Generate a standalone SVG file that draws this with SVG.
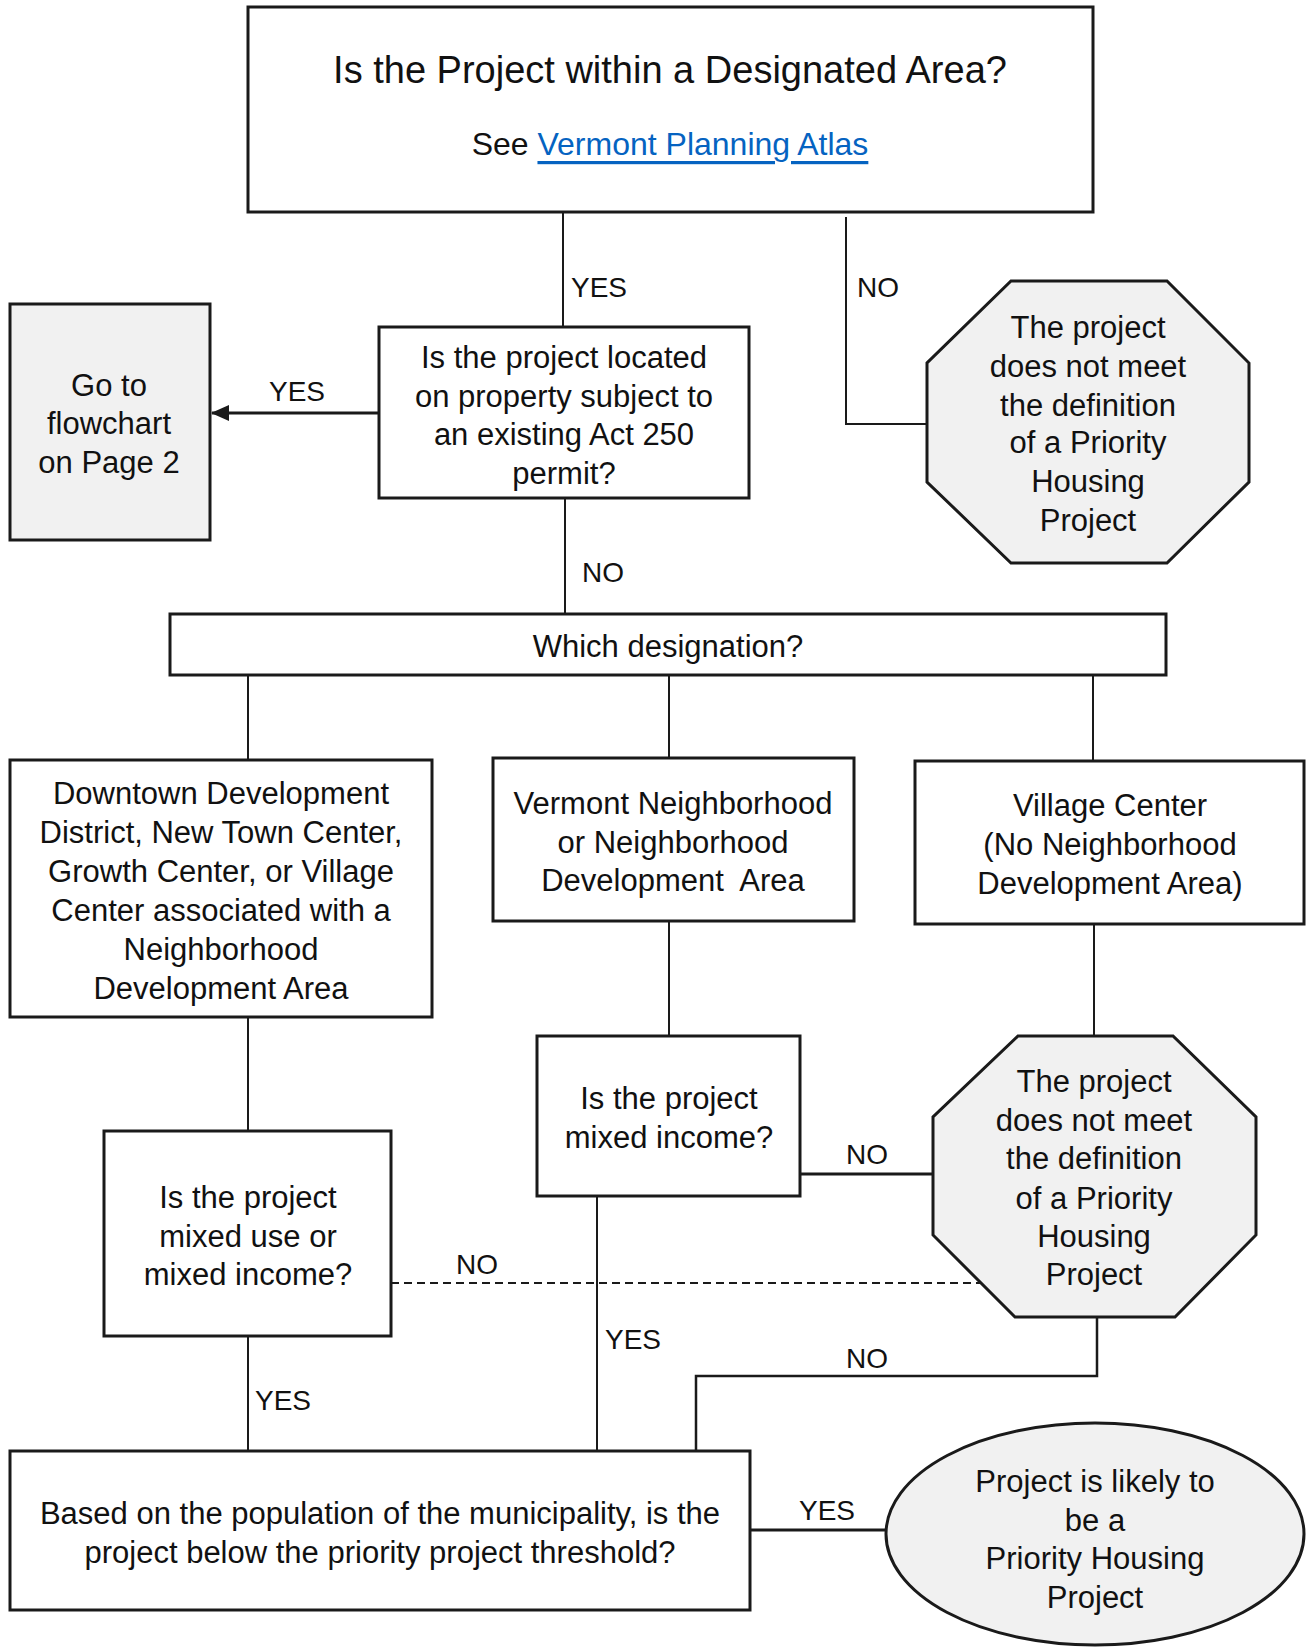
<svg xmlns="http://www.w3.org/2000/svg" width="1306" height="1648" viewBox="0 0 1306 1648">
<defs>
<style>
text{font-family:"Liberation Sans",Arial,sans-serif;font-size:31px;fill:#111;text-anchor:middle;dominant-baseline:central}
.box{fill:#fff;stroke:#1a1a1a;stroke-width:3}
.grey{fill:#f1f1f1;stroke:#1a1a1a;stroke-width:3}
.c{fill:none;stroke:#1a1a1a;stroke-width:2}
.dash{stroke-dasharray:8 5}
.lbl{font-size:28px}
.link{fill:#0563C1;text-decoration:underline}
</style>
<marker id="arrow" markerWidth="18" markerHeight="16" refX="17" refY="8" orient="auto" markerUnits="userSpaceOnUse">
<path d="M0,0 L18,8 L0,16 z" fill="#1a1a1a"/>
</marker>
</defs>
<rect width="1306" height="1648" fill="#fff"/>

<g id="connectors">
<path class="c" d="M563 212 V327"/>
<path class="c" d="M846 217 V424 H927"/>
<path class="c" d="M379 413 H212" marker-end="url(#arrow)" style="stroke-width:3"/>
<path class="c" d="M565 498 V614"/>
<path class="c" d="M248 675 V760"/>
<path class="c" d="M669 675 V758"/>
<path class="c" d="M1093 675 V761"/>
<path class="c" d="M248 1017 V1131"/>
<path class="c" d="M669 921 V1036"/>
<path class="c" d="M1094 924 V1036"/>
<path class="c" d="M800 1174 H933" style="stroke-width:3"/>
<path class="c dash" d="M391 1283 H981"/>
<path class="c" d="M597 1196 V1451"/>
<path class="c" d="M1097 1317 V1376 H696 V1451" style="stroke-width:2.5"/>
<path class="c" d="M248 1336 V1451"/>
<path class="c" d="M750 1530 H886" style="stroke-width:3"/>
<text class="lbl" x="599" y="287">YES</text>
<text class="lbl" x="878" y="287">NO</text>
<text class="lbl" x="297" y="391">YES</text>
<text class="lbl" x="603" y="572">NO</text>
<text class="lbl" x="867" y="1154">NO</text>
<text class="lbl" x="477" y="1264">NO</text>
<text class="lbl" x="633" y="1339">YES</text>
<text class="lbl" x="867" y="1358">NO</text>
<text class="lbl" x="283" y="1400">YES</text>
<text class="lbl" x="827" y="1510">YES</text>
</g>

<g id="n-start">
<rect class="box" x="248" y="7" width="845" height="205"/>
<text x="670" y="70" style="font-size:38px">Is the Project within a Designated Area?</text>
<text x="670" y="144" style="font-size:32px">See <tspan class="link">Vermont Planning Atlas</tspan></text>
</g>

<g id="n-act250">
<rect class="box" x="379" y="327" width="370" height="171"/>
<text x="564" y="357">Is the project located</text>
<text x="564" y="396">on property subject to</text>
<text x="564" y="434">an existing Act 250</text>
<text x="564" y="473">permit?</text>
</g>

<g id="n-goto">
<rect class="grey" x="10" y="304" width="200" height="236"/>
<text x="109" y="385">Go to</text>
<text x="109" y="423">flowchart</text>
<text x="109" y="462">on Page 2</text>
</g>

<g id="n-stop1">
<polygon class="grey" points="1011,281 1167,281 1249,363 1249,482 1167,563 1011,563 927,482 927,363"/>
<text x="1088" y="327">The project</text>
<text x="1088" y="366">does not meet</text>
<text x="1088" y="405">the definition</text>
<text x="1088" y="442">of a Priority</text>
<text x="1088" y="481">Housing</text>
<text x="1088" y="520">Project</text>
</g>

<g id="n-which">
<rect class="box" x="170" y="614" width="996" height="61"/>
<text x="668" y="646">Which designation?</text>
</g>

<g id="n-downtown">
<rect class="box" x="10" y="760" width="422" height="257"/>
<text x="221" y="793">Downtown Development</text>
<text x="221" y="832">District, New Town Center,</text>
<text x="221" y="871">Growth Center, or Village</text>
<text x="221" y="910">Center associated with a</text>
<text x="221" y="949">Neighborhood</text>
<text x="221" y="988">Development Area</text>
</g>

<g id="n-vermont">
<rect class="box" x="493" y="758" width="361" height="163"/>
<text x="673" y="803">Vermont Neighborhood</text>
<text x="673" y="842">or Neighborhood</text>
<text x="673" y="880" style="white-space:pre">Development  Area</text>
</g>

<g id="n-village">
<rect class="box" x="915" y="761" width="389" height="163"/>
<text x="1110" y="805">Village Center</text>
<text x="1110" y="844">(No Neighborhood</text>
<text x="1110" y="883">Development Area)</text>
</g>

<g id="n-mixeduse">
<rect class="box" x="104" y="1131" width="287" height="205"/>
<text x="248" y="1197">Is the project</text>
<text x="248" y="1236">mixed use or</text>
<text x="248" y="1274">mixed income?</text>
</g>

<g id="n-mixedincome">
<rect class="box" x="537" y="1036" width="263" height="160"/>
<text x="669" y="1098">Is the project</text>
<text x="669" y="1137">mixed income?</text>
</g>

<g id="n-stop2">
<polygon class="grey" points="1018,1036 1173,1036 1256,1117 1256,1235 1175,1317 1015,1317 933,1235 933,1117"/>
<text x="1094" y="1081">The project</text>
<text x="1094" y="1120">does not meet</text>
<text x="1094" y="1158">the definition</text>
<text x="1094" y="1198">of a Priority</text>
<text x="1094" y="1236">Housing</text>
<text x="1094" y="1274">Project</text>
</g>

<g id="n-threshold">
<rect class="box" x="10" y="1451" width="740" height="159"/>
<text x="380" y="1513">Based on the population of the municipality, is the</text>
<text x="380" y="1552">project below the priority project threshold?</text>
</g>

<g id="n-likely">
<ellipse class="grey" cx="1095" cy="1534" rx="209" ry="111"/>
<text x="1095" y="1481">Project is likely to</text>
<text x="1095" y="1520">be a</text>
<text x="1095" y="1558">Priority Housing</text>
<text x="1095" y="1597">Project</text>
</g>
</svg>
